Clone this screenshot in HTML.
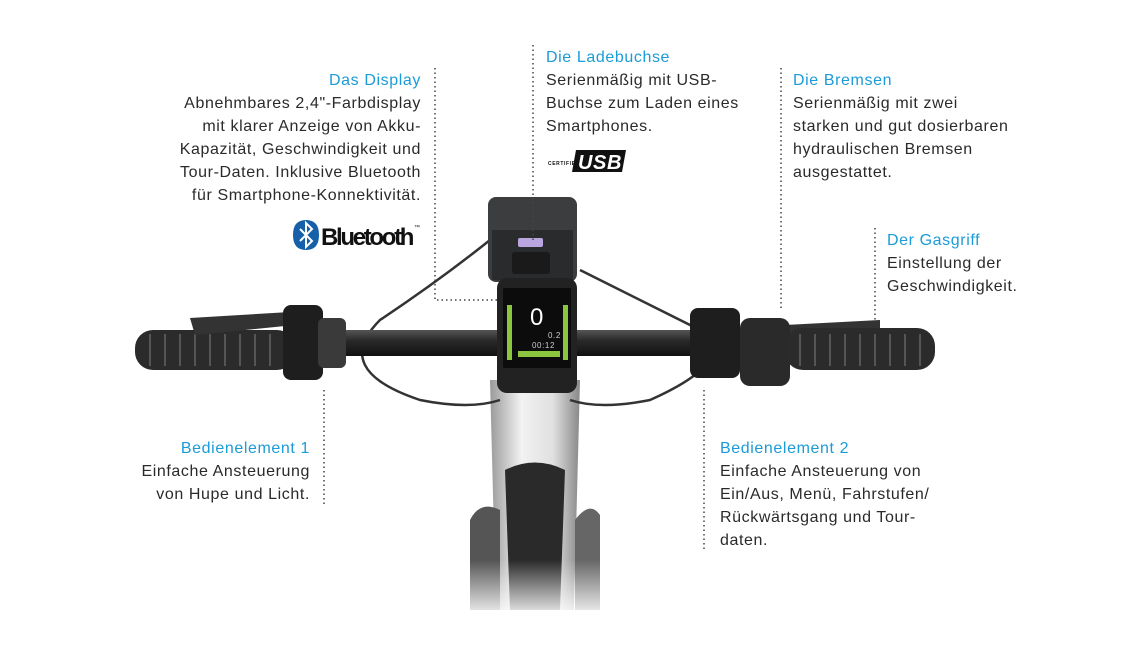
<!DOCTYPE html>
<html><head><meta charset="utf-8"><style>
body{margin:0;background:#fff;}
#w{position:relative;width:1140px;height:670px;overflow:hidden;background:#fff;font-family:"Liberation Sans",sans-serif;font-size:16px;line-height:23px;color:#2a2a2a;letter-spacing:0.6px;}
.t{position:absolute;white-space:nowrap;}
.h{color:#1b9bd7;}
.r{text-align:right;}
svg{position:absolute;left:0;top:0;}
</style></head><body><div id="w">
<svg width="1140" height="670">
<defs>
<linearGradient id="stem" x1="0" x2="1"><stop offset="0" stop-color="#9a9a9a"/><stop offset=".35" stop-color="#f2f2f2"/><stop offset=".7" stop-color="#e0e0e0"/><stop offset="1" stop-color="#888"/></linearGradient>
<linearGradient id="fade" x1="0" y1="0" x2="0" y2="1"><stop offset="0" stop-color="#fff" stop-opacity="0"/><stop offset="1" stop-color="#fff"/></linearGradient>
<linearGradient id="bar" x1="0" y1="0" x2="0" y2="1"><stop offset="0" stop-color="#555"/><stop offset=".4" stop-color="#2a2a2a"/><stop offset="1" stop-color="#111"/></linearGradient>
</defs>
<path d="M490 380 L580 380 L574 610 L496 610 Z" fill="url(#stem)"/>
<path d="M505 470 Q535 455 565 470 L560 610 L510 610 Z" fill="#2a2a2a"/>
<path d="M470 520 Q480 500 500 510 L500 610 L470 610 Z" fill="#555"/>
<path d="M575 520 Q590 500 600 515 L600 610 L575 610 Z" fill="#666"/>
<rect x="440" y="560" width="200" height="60" fill="url(#fade)"/>
<path d="M490 240 Q440 280 380 320 Q330 370 420 400 Q470 410 500 400" stroke="#333" stroke-width="2.5" fill="none"/>
<path d="M580 270 Q640 300 700 330 Q740 360 650 400 Q600 410 570 400" stroke="#333" stroke-width="2.5" fill="none"/>
<rect x="280" y="330" width="520" height="26" rx="10" fill="url(#bar)"/>
<rect x="135" y="330" width="160" height="40" rx="18" fill="#2b2b2b"/>
<path d="M785 325 L880 320 L880 330 L785 335 Z" fill="#333"/>
<rect x="785" y="328" width="150" height="42" rx="18" fill="#2b2b2b"/>
<g stroke="#555" stroke-width="2">
<line x1="150" y1="334" x2="150" y2="366"/><line x1="165" y1="334" x2="165" y2="366"/><line x1="180" y1="334" x2="180" y2="366"/><line x1="195" y1="334" x2="195" y2="366"/><line x1="210" y1="334" x2="210" y2="366"/><line x1="225" y1="334" x2="225" y2="366"/><line x1="240" y1="334" x2="240" y2="366"/><line x1="255" y1="334" x2="255" y2="366"/><line x1="270" y1="334" x2="270" y2="366"/>
<line x1="800" y1="334" x2="800" y2="366"/><line x1="815" y1="334" x2="815" y2="366"/><line x1="830" y1="334" x2="830" y2="366"/><line x1="845" y1="334" x2="845" y2="366"/><line x1="860" y1="334" x2="860" y2="366"/><line x1="875" y1="334" x2="875" y2="366"/><line x1="890" y1="334" x2="890" y2="366"/><line x1="905" y1="334" x2="905" y2="366"/><line x1="920" y1="334" x2="920" y2="366"/>
</g>
<path d="M190 318 L290 312 L295 325 L195 335 Z" fill="#333"/>
<rect x="283" y="305" width="40" height="75" rx="8" fill="#1e1e1e"/>
<rect x="318" y="318" width="28" height="50" rx="6" fill="#3a3a3a"/>
<rect x="740" y="318" width="50" height="68" rx="10" fill="#2a2a2a"/>
<rect x="690" y="308" width="50" height="70" rx="8" fill="#1e1e1e"/>
<rect x="488" y="197" width="89" height="85" rx="8" fill="#3b3d3f"/>
<rect x="492" y="230" width="81" height="50" fill="#2a2b2c"/>
<rect x="518" y="238" width="25" height="9" rx="2" fill="#b9a6e0"/>
<rect x="512" y="252" width="38" height="22" rx="3" fill="#1a1a1a"/>
<rect x="497" y="278" width="80" height="115" rx="10" fill="#222"/>
<rect x="503" y="288" width="68" height="80" rx="2" fill="#0c0c0c"/>
<rect x="507" y="305" width="5" height="55" fill="#8cc63f"/>
<rect x="563" y="305" width="5" height="55" fill="#8cc63f"/>
<text x="537" y="325" fill="#fff" font-size="24" font-family="Liberation Sans" text-anchor="middle">0</text>
<text x="548" y="338" fill="#ccc" font-size="8" font-family="Liberation Sans">0.2</text>
<text x="532" y="348" fill="#ccc" font-size="8" font-family="Liberation Sans">00:12</text>
<rect x="518" y="351" width="42" height="6" fill="#8cc63f"/>
<g stroke="#444" stroke-width="1.5" stroke-dasharray="1.5 3" fill="none">
<path d="M435 68 L435 300 L497 300"/>
<path d="M533 45 L533 240"/>
<path d="M781 68 L781 308"/>
<path d="M875 228 L875 322"/>
<path d="M324 390 L324 507"/>
<path d="M704 390 L704 550"/>
</g>
<path d="M306 220 Q293 220 293 235 Q293 250 306 250 Q319 250 319 235 Q319 220 306 220 Z" fill="#1560a8"/>
<path d="M300 229 L312 241 L306 247 L306 223 L312 229 L300 241" stroke="#fff" stroke-width="2" fill="none"/>
<text x="321" y="245" font-family="Liberation Sans" font-weight="bold" font-size="24" fill="#111" textLength="94">Bluetooth</text>
<text x="414" y="229" font-family="Liberation Sans" font-size="6" fill="#111">™</text>
<text x="548" y="165" font-family="Liberation Sans" font-size="5" font-weight="bold" fill="#111">CERTIFIED</text>
<path d="M576 150 L626 150 L622 172 L572 172 Z" fill="#111"/>
<text x="578" y="169" font-family="Liberation Sans" font-weight="bold" font-style="italic" font-size="20" fill="#fff">USB</text>
</svg>

<div class="t r" style="right:719px;top:69px"><span class="h">Das Display</span><br>Abnehmbares 2,4"-Farbdisplay<br>mit klarer Anzeige von Akku-<br>Kapazität, Geschwindigkeit und<br>Tour-Daten. Inklusive Bluetooth<br>für Smartphone-Konnektivität.</div>
<div class="t" style="left:546px;top:46px"><span class="h">Die Ladebuchse</span><br>Serienmäßig mit USB-<br>Buchse zum Laden eines<br>Smartphones.</div>
<div class="t" style="left:793px;top:69px"><span class="h">Die Bremsen</span><br>Serienmäßig mit zwei<br>starken und gut dosierbaren<br>hydraulischen Bremsen<br>ausgestattet.</div>
<div class="t" style="left:887px;top:229px"><span class="h">Der Gasgriff</span><br>Einstellung der<br>Geschwindigkeit.</div>
<div class="t r" style="right:830px;top:437px"><span class="h">Bedienelement 1</span><br>Einfache Ansteuerung<br>von Hupe und Licht.</div>
<div class="t" style="left:720px;top:437px"><span class="h">Bedienelement 2</span><br>Einfache Ansteuerung von<br>Ein/Aus, Menü, Fahrstufen/<br>Rückwärtsgang und Tour-<br>daten.</div>
</div></body></html>
